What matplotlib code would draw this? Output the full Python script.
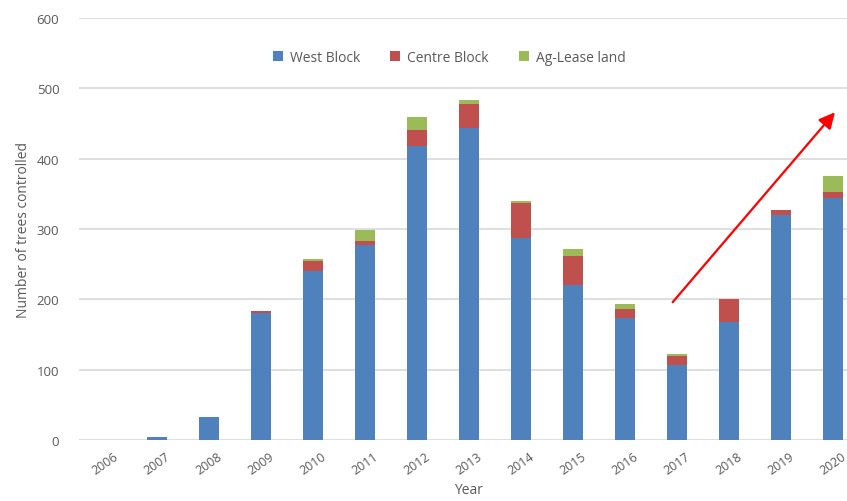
import numpy as np
import matplotlib.pyplot as plt

years = ["2006", "2007", "2008", "2009", "2010", "2011", "2012", "2013",
         "2014", "2015", "2016", "2017", "2018", "2019", "2020"]
west_block = [0, 4, 33, 181, 240, 278, 418, 443, 287, 221, 174, 106, 168, 320, 344]
centre_block = [0, 0, 0, 2, 15, 5, 23, 35, 50, 40, 12, 13, 33, 7, 9]
ag_lease = [0, 0, 0, 0, 3, 15, 18, 5, 3, 11, 7, 3, 0, 0, 22]

# trend arrow (category index, trees)
arrow_start = (10.92, 196)
arrow_end = (14.04, 466)

plt.rcParams['font.family'] = ['Open Sans', 'DejaVu Sans']
text_grey = '#595959'

fig = plt.figure(figsize=(8.47, 5.02), dpi=100)
ax = fig.add_axes([0.093, 0.1215, 0.921, 0.8405])

x = np.arange(len(years))
west = np.array(west_block)
centre = np.array(centre_block)
ag = np.array(ag_lease)
w = 0.39
ax.bar(x, west, w, color='#4F81BD', label='West Block', zorder=3)
ax.bar(x, centre, w, bottom=west, color='#C0504D', label='Centre Block', zorder=3)
ax.bar(x, ag, w, bottom=west + centre, color='#9BBB59', label='Ag-Lease land', zorder=3)

ax.set_xlim(-0.5, len(years) - 0.5)
ax.set_ylim(0, 600)
ax.set_yticks(range(0, 601, 100))
ax.set_xticks(x)
ax.set_xticklabels(years, rotation=35, ha='center', fontsize=9, color=text_grey)
ax.tick_params(axis='y', labelsize=9.5, labelcolor=text_grey, length=0, pad=14)
ax.tick_params(axis='x', length=0, pad=7)
ax.grid(axis='y', color='#d9d9d9', linewidth=1.2, zorder=0)
for s in ax.spines.values():
    s.set_visible(False)

ax.set_ylabel('Number of trees controlled', fontsize=10, color=text_grey, labelpad=4)
ax.set_xlabel('Year', fontsize=10, color=text_grey, labelpad=4)

ax.annotate('', xy=arrow_end, xytext=arrow_start,
            arrowprops=dict(arrowstyle='-|>', color='#FF0000', lw=1.6,
                            mutation_scale=24, shrinkA=0, shrinkB=0), zorder=5)

leg = ax.legend(loc='upper center', bbox_to_anchor=(0.475, 0.955), ncol=3, frameon=False,
                fontsize=10, handlelength=0.7, handleheight=0.7, columnspacing=2.2,
                handletextpad=0.5)
for t in leg.get_texts():
    t.set_color(text_grey)

fig.savefig('out.png', dpi=100)
